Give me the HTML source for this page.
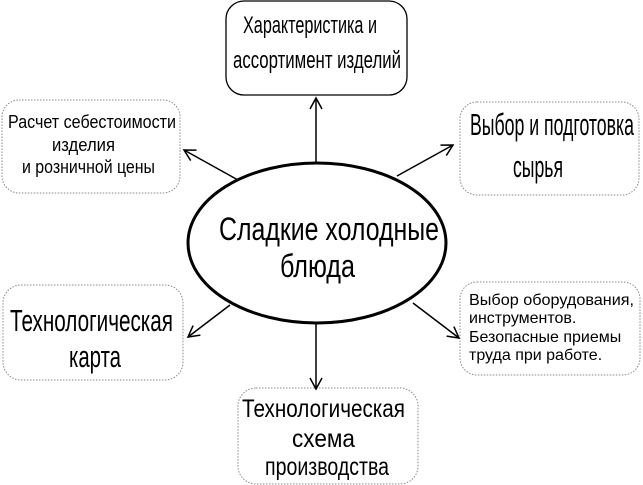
<!DOCTYPE html>
<html><head><meta charset="utf-8"><style>html,body{margin:0;padding:0;background:#fff}svg{display:block}</style></head><body>
<svg width="643" height="485" viewBox="0 0 643 485" xmlns="http://www.w3.org/2000/svg" font-family="'Liberation Sans', sans-serif" fill="#000">
<defs><marker id="a" markerWidth="14" markerHeight="14" refX="12" refY="7" orient="auto" markerUnits="userSpaceOnUse"><path d="M1,1 L12,7 L1,13" fill="none" stroke="#000" stroke-width="1.5"/></marker></defs>
<g fill="none">
<rect x="226" y="1" width="181" height="94" rx="18" stroke="#000" stroke-width="1.3"/>
<rect x="2" y="100" width="178" height="93" rx="17" stroke="#888" stroke-dasharray="1.5 1.5"/>
<rect x="460" y="102" width="179" height="93" rx="17" stroke="#888" stroke-dasharray="1.5 1.5"/>
<rect x="3" y="285" width="180" height="95" rx="18" stroke="#888" stroke-dasharray="1.5 1.5"/>
<rect x="460" y="282" width="180" height="93" rx="17" stroke="#888" stroke-dasharray="1.5 1.5"/>
<rect x="238" y="388" width="180" height="96" rx="18" stroke="#888" stroke-dasharray="1.5 1.5"/>
<ellipse cx="317" cy="243" rx="129" ry="80" stroke="#000" stroke-width="3"/>
<g stroke="#000" stroke-width="1.5" marker-end="url(#a)">
<line x1="316" y1="163" x2="316" y2="98"/>
<line x1="238" y1="180" x2="184" y2="150"/>
<line x1="397" y1="176" x2="453" y2="145"/>
<line x1="230" y1="305" x2="188" y2="337"/>
<line x1="316" y1="323" x2="316" y2="389"/>
<line x1="413" y1="303" x2="459" y2="338"/>
</g></g>
<g font-size="24">
<text x="243" y="33" textLength="134" lengthAdjust="spacingAndGlyphs">Характеристика и</text>
<text x="233" y="68" textLength="168" lengthAdjust="spacingAndGlyphs">ассортимент изделий</text>
</g>
<g font-size="18">
<text x="8" y="128" textLength="168" lengthAdjust="spacingAndGlyphs">Расчет себестоимости</text>
<text x="52" y="151" textLength="63" lengthAdjust="spacingAndGlyphs">изделия</text>
<text x="22" y="173" textLength="133" lengthAdjust="spacingAndGlyphs">и розничной цены</text>
</g>
<g font-size="31">
<text x="470" y="135" textLength="164" lengthAdjust="spacingAndGlyphs">Выбор и подготовка</text>
<text x="513" y="177" textLength="50" lengthAdjust="spacingAndGlyphs">сырья</text>
</g>
<g font-size="32">
<text x="219" y="240" textLength="220" lengthAdjust="spacingAndGlyphs">Сладкие холодные</text>
<text x="280" y="277" textLength="75" lengthAdjust="spacingAndGlyphs">блюда</text>
</g>
<g font-size="31">
<text x="10" y="331" textLength="163" lengthAdjust="spacingAndGlyphs">Технологическая</text>
<text x="69" y="367" textLength="52" lengthAdjust="spacingAndGlyphs">карта</text>
</g>
<g font-size="16">
<text x="469" y="305" textLength="165" lengthAdjust="spacingAndGlyphs">Выбор оборудования,</text>
<text x="469" y="323">инструментов.</text>
<text x="469" y="342">Безопасные приемы</text>
<text x="469" y="360">труда при работе.</text>
</g>
<g font-size="25">
<text x="242" y="417" textLength="163" lengthAdjust="spacingAndGlyphs">Технологическая</text>
<text x="292" y="447" textLength="63" lengthAdjust="spacingAndGlyphs">схема</text>
<text x="265" y="475" textLength="124" lengthAdjust="spacingAndGlyphs">производства</text>
</g>
</svg>
</body></html>
